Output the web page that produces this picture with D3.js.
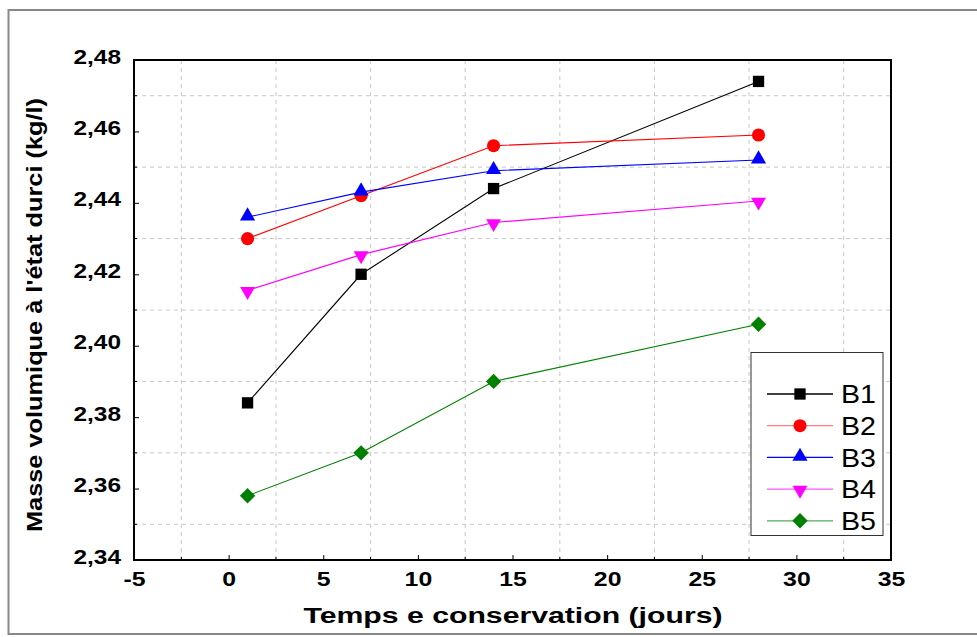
<!DOCTYPE html>
<html><head><meta charset="utf-8">
<script src="https://cdn.jsdelivr.net/npm/d3@7/dist/d3.min.js"></script>
<style>body{margin:0;background:#fff}svg{display:block}text{font-family:Arial,"Liberation Sans",sans-serif}</style>
</head><body><svg id="c" width="977" height="637"></svg>
<script>
const days = [1, 7, 14, 28];
const seriesNames = ["B1", "B2", "B3", "B4", "B5"];
const B1 = [2.384, 2.420, 2.444, 2.474];
const B2 = [2.430, 2.442, 2.456, 2.459];
const B3 = [2.436, 2.443, 2.449, 2.452];
const B4 = [2.4155, 2.4255, 2.4345, 2.4405];
const B5 = [2.358, 2.370, 2.390, 2.406];
const xTicks = [-5, 0, 5, 10, 15, 20, 25, 30, 35];
const yTicks = [2.34, 2.36, 2.38, 2.40, 2.42, 2.44, 2.46, 2.48];
const xGrid = [-2.5, 2.5, 7.5, 12.5, 17.5, 22.5, 27.5, 32.5];
const yGrid = [2.35, 2.37, 2.39, 2.41, 2.43, 2.45, 2.47];
const colors = ["#000000", "#ff0000", "#0000ff", "#ff00ff", "#008000"];
const legendColors = ["#000000", "#ff8080", "#0000ff", "#ff55ff", "#55aa55"];
const symbols = ["square", "circle", "triangle", "tri-down", "diamond"];
const xTitle = "Temps e conservation (jours)";
const yTitle = "Masse volumique à l'état durci (kg/l)";
const allSeries = [B1, B2, B3, B4, B5];

const svg = d3.select("#c");
const L = 134, R = 891, T = 60, B = 560;
const x = d3.scaleLinear().domain([-5, 35]).range([L, R]);
const y = d3.scaleLinear().domain([2.34, 2.48]).range([B, T]);

function stretch(sel, f) {
  sel.each(function () {
    const w = this.getComputedTextLength();
    d3.select(this).attr("textLength", w * f).attr("lengthAdjust", "spacingAndGlyphs");
  });
}

// outer frame
svg.append("rect").attr("x", 8.5).attr("y", 10).attr("width", 990).attr("height", 624)
  .attr("fill", "none").attr("stroke", "#888").attr("stroke-width", 2);

// grid
const g = svg.append("g");
g.selectAll(".vg").data(xGrid).join("line")
  .attr("x1", d => x(d)).attr("x2", d => x(d)).attr("y1", T).attr("y2", B)
  .attr("stroke", "#c8c8c8").attr("stroke-dasharray", "4,4");
g.selectAll(".hg").data(yGrid).join("line")
  .attr("y1", d => y(d)).attr("y2", d => y(d)).attr("x1", L).attr("x2", R)
  .attr("stroke", "#c8c8c8").attr("stroke-dasharray", "4,4");

// axes
const fmtY = d => d3.format(".2f")(d).replace(".", ",");
const fmtX = d => String(d);
const xAxis = svg.append("g").attr("transform", `translate(0,${B})`)
  .call(d3.axisBottom(x).tickValues(xTicks).tickSize(-5).tickPadding(13).tickFormat(fmtX));
const yAxis = svg.append("g").attr("transform", `translate(${L},0)`)
  .call(d3.axisLeft(y).tickValues(yTicks).tickSize(-5).tickPadding(13).tickFormat(fmtY));
[xAxis, yAxis].forEach(a => {
  a.select(".domain").remove();
  a.selectAll("text").attr("font-size", 20).attr("font-weight", "bold").attr("fill", "#000")
    .attr("font-family", "Arial, 'Liberation Sans', sans-serif");
  a.selectAll("line").attr("stroke", "#000");
});
xAxis.selectAll("text").attr("dy", "0.65em");
yAxis.selectAll("text").attr("dy", "0.15em");
stretch(xAxis.selectAll("text"), 1.24);
stretch(yAxis.selectAll("text"), 1.22);
// minor ticks
svg.append("g").selectAll("line").data(xGrid).join("line")
  .attr("x1", d => x(d)).attr("x2", d => x(d)).attr("y1", B).attr("y2", B - 3).attr("stroke", "#000");
svg.append("g").selectAll("line").data(yGrid).join("line")
  .attr("y1", d => y(d)).attr("y2", d => y(d)).attr("x1", L).attr("x2", L + 3).attr("stroke", "#000");

// plot frame
svg.append("rect").attr("x", L).attr("y", T).attr("width", R - L).attr("height", B - T)
  .attr("fill", "none").attr("stroke", "#000").attr("stroke-width", 2);

// markers
const symDefs = {
  "square":   { type: d3.symbolSquare,   size: 128, rot: 0,   dy: 0 },
  "circle":   { type: d3.symbolCircle,   size: 135, rot: 0,   dy: 0 },
  "triangle": { type: d3.symbolTriangle, size: 100, rot: 0,   dy: -1 },
  "tri-down": { type: d3.symbolTriangle, size: 95,  rot: 180, dy: 1 },
  "diamond":  { type: d3.symbolSquare,   size: 118, rot: 45,  dy: 0 }
};
function drawMarker(sel, i, cx, cy) {
  const s = symDefs[symbols[i]];
  sel.append("path").attr("d", d3.symbol().type(s.type).size(s.size)())
    .attr("transform", `translate(${cx},${cy + s.dy}) rotate(${s.rot})`)
    .attr("fill", colors[i]);
}

const line = d3.line().x((d, j) => x(days[j])).y(d => y(d));
allSeries.forEach((s, i) => {
  svg.append("path").datum(s).attr("d", line).attr("fill", "none")
    .attr("stroke", colors[i]).attr("stroke-width", 1.1);
});
allSeries.forEach((s, i) => {
  s.forEach((v, j) => drawMarker(svg, i, x(days[j]), y(v)));
});

// legend
const lg = svg.append("g");
lg.append("rect").attr("x", 751).attr("y", 352.5).attr("width", 132).attr("height", 183)
  .attr("fill", "#fff").attr("stroke", "#333").attr("stroke-width", 1);
seriesNames.forEach((n, i) => {
  const ly = 394 + i * 31.7;
  lg.append("line").attr("x1", 767).attr("x2", 833).attr("y1", ly).attr("y2", ly)
    .attr("stroke", legendColors[i]).attr("stroke-width", 1.3);
  drawMarker(lg, i, 800, ly);
  const t = lg.append("text").attr("x", 841).attr("y", ly).attr("dy", "0.36em")
    .attr("font-size", 26).attr("fill", "#000").text(n);
  stretch(t, 1.1);
});

// titles
const xt = svg.append("text").attr("x", 513).attr("y", 623).attr("text-anchor", "middle")
  .attr("font-size", 22).attr("font-weight", "bold").text(xTitle);
xt.attr("textLength", 419).attr("lengthAdjust", "spacingAndGlyphs");
const yt = svg.append("text").attr("transform", `translate(42,315) rotate(-90)`)
  .attr("text-anchor", "middle").attr("font-size", 22).attr("font-weight", "bold").text(yTitle);
yt.attr("textLength", 434).attr("lengthAdjust", "spacingAndGlyphs");
</script></body></html>
